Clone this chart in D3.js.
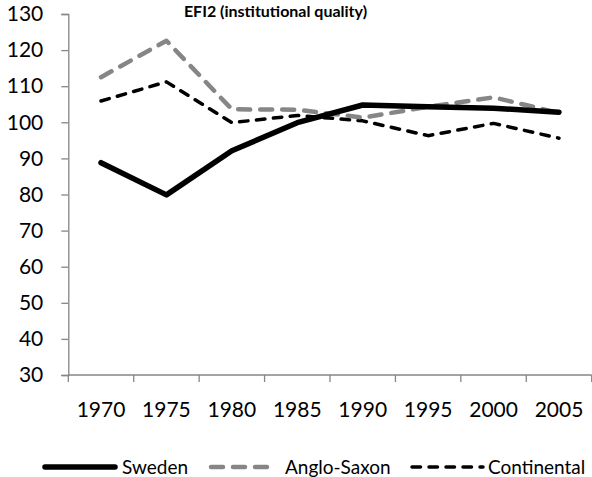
<!DOCTYPE html>
<html>
<head>
<meta charset="utf-8">
<script src="https://cdn.jsdelivr.net/npm/d3@7"></script>
<style>
  body { margin: 0; background: #fff; }
  text { font-family: Lato, "Open Sans", sans-serif; fill: #000; }
</style>
</head>
<body>
<script>
// values
var years = ["1970", "1975", "1980", "1985", "1990", "1995", "2000", "2005"];
var sweden = [88.8, 79.9, 92.1, 99.9, 104.8, 104.3, 103.9, 102.8];
var angloSaxon = [112.5, 122.6, 103.6, 103.5, 101.3, 104.3, 106.9, 102.6];
var continental = [105.9, 111.2, 99.9, 101.9, 100.4, 96.3, 99.7, 95.6];
var yTicks = [30, 40, 50, 60, 70, 80, 90, 100, 110, 120, 130];

var series = [
    {name: "Sweden", values: sweden, color: "#000", width: 5.5, dash: null},
    {name: "Anglo-Saxon", values: angloSaxon, color: "#868686", width: 4.5, dash: "12,10"},
    {name: "Continental", values: continental, color: "#000", width: 3.5, dash: "8.5,8.5"}
];

var width = 592, height = 477;
var axisColor = "#868686";

const svg = d3.select("body")
    .append("svg")
    .attr("width", width)
    .attr("height", height);

var x = d3.scaleBand()
    .domain(years)
    .range([68.3, 591.7]);

var y = d3.scaleLinear()
    .domain([30, 130])
    .range([375, 14]);

// y axis
var yAxis = svg.append("g")
    .attr("transform", "translate(68.3,0)")
    .call(d3.axisLeft(y).tickValues(yTicks).tickSize(7).tickPadding(18).tickFormat(d3.format("d")));
yAxis.select(".domain").attr("stroke", axisColor).attr("stroke-width", 1.3);
yAxis.selectAll(".tick line").attr("stroke", axisColor).attr("stroke-width", 1.3);
yAxis.selectAll(".tick text").style("font-size", "21px").attr("fill", "#000");

// x axis (labels centred in bands, ticks on band edges)
var xAxis = svg.append("g")
    .attr("transform", "translate(0,375)")
    .call(d3.axisBottom(x).tickSize(0).tickPadding(27));
xAxis.select(".domain").remove();
xAxis.selectAll(".tick text").style("font-size", "21px").attr("fill", "#000");

svg.append("line")
    .attr("x1", x.range()[0]).attr("x2", x.range()[1])
    .attr("y1", 375).attr("y2", 375)
    .attr("stroke", axisColor).attr("stroke-width", 1.3);

var edges = years.map(function(d) { return x(d); }).concat([x.range()[1]]);
svg.selectAll("xTick")
    .data(edges)
    .enter()
    .append("line")
    .attr("x1", function(d) { return d; })
    .attr("x2", function(d) { return d; })
    .attr("y1", 375).attr("y2", 382)
    .attr("stroke", axisColor).attr("stroke-width", 1.3);

// lines
var line = d3.line()
    .x(function(d, i) { return x(years[i]) + x.bandwidth() / 2; })
    .y(function(d) { return y(d); });

svg.selectAll("seriesPath")
    .data(series.slice().reverse())
    .enter()
    .append("path")
    .attr("d", function(d) { return line(d.values); })
    .style("fill", "none")
    .style("stroke", function(d) { return d.color; })
    .style("stroke-width", function(d) { return d.width; })
    .style("stroke-dasharray", function(d) { return d.dash; })
    .style("stroke-linecap", "round")
    .style("stroke-linejoin", "round");

// title
svg.append("text")
    .attr("x", 275.5)
    .attr("y", 17)
    .style("text-anchor", "middle")
    .style("font-size", "16px")
    .style("font-weight", "bold")
    .text("EFI2 (institutional quality)");

// legend
var legendX = [[45, 115, 122], [211, 270, 285], [412, 483, 488]];
var legend = svg.selectAll("legendItem")
    .data(series)
    .enter()
    .append("g");
legend.append("line")
    .attr("x1", function(d, i) { return legendX[i][0]; })
    .attr("x2", function(d, i) { return legendX[i][1]; })
    .attr("y1", 467).attr("y2", 467)
    .style("stroke", function(d) { return d.color; })
    .style("stroke-width", function(d) { return d.width; })
    .style("stroke-dasharray", function(d) { return d.dash; })
    .style("stroke-linecap", "round");
legend.append("text")
    .attr("x", function(d, i) { return legendX[i][2]; })
    .attr("y", 467)
    .attr("dy", "0.35em")
    .style("font-size", "19px")
    .text(function(d) { return d.name; });
</script>
</body>
</html>
